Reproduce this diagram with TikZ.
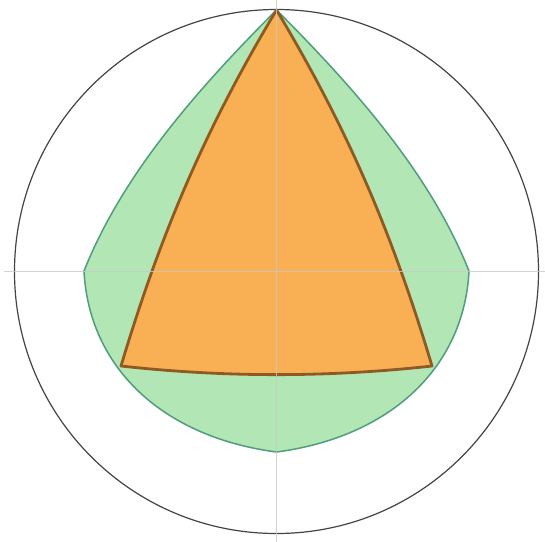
\documentclass[tikz,border=0pt]{standalone}
\definecolor{greenfill}{HTML}{B3E6B5}
\definecolor{greenline}{HTML}{4E9E7E}
\definecolor{orangefill}{HTML}{F9B055}
\definecolor{orangeline}{HTML}{8F5A22}
\definecolor{axisgray}{HTML}{C8C8C8}
\definecolor{rimgray}{HTML}{444444}
\tikzset{
  rim/.style={draw=rimgray, line width=1.2pt},
  axisline/.style={draw=axisgray, line width=0.9pt, opacity=0.8},
  buffershape/.style={fill=greenfill, draw=greenline, line width=1.5pt, line join=round},
  triangleshape/.style={fill=orangefill, draw=orangeline, line width=2.8pt, line join=round}
}
\begin{document}
\begin{tikzpicture}[x=1pt,y=-1pt]
\useasboundingbox (0,0) rectangle (545,541);
\fill[white] (0,0) rectangle (545,541);
\coordinate (C) at (276.5,271.5);
\coordinate (top) at (276.5,10);
\coordinate (gl) at (84,271);
\coordinate (gr) at (469,271);
\coordinate (gb) at (276.5,452);
\coordinate (ol) at (121,366);
\coordinate (or) at (432,366);
\draw[rim] (C) circle[radius=262];
% green buffer region
\path[buffershape]
  (top) .. controls (186.5,100) and (120,181) .. (gl)
  .. controls (89,368) and (163,437) .. (gb)
  .. controls (390,437) and (464,368) .. (gr)
  .. controls (433,181) and (366.5,100) .. (top) -- cycle;
% orange triangle
\path[triangleshape]
  (top) .. controls (201.5,135) and (158.5,241) .. (ol)
  .. controls (225,377.5) and (328,377.5) .. (or)
  .. controls (394.5,241) and (351.5,135) .. (top) -- cycle;
% axes
\draw[axisline] ([xshift=-272.5pt]C) -- ([xshift=272.5pt]C);
\draw[axisline] ([yshift=272.5pt]C) -- ([yshift=-272.5pt]C);
\end{tikzpicture}
\end{document}
